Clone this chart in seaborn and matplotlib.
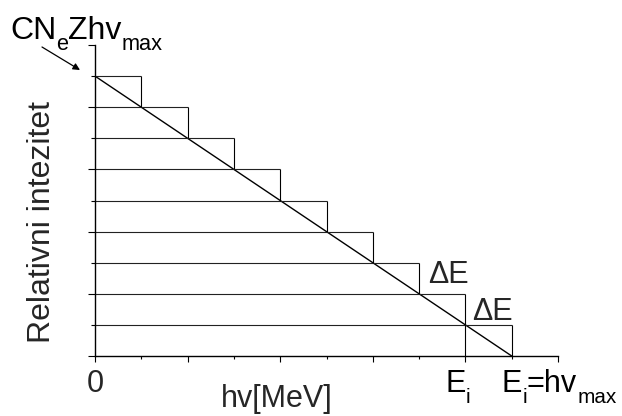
import matplotlib
matplotlib.use("Agg")
import matplotlib.pyplot as plt
import seaborn as sns
import pandas as pd
from matplotlib.ticker import MultipleLocator

# Staircase: within each energy bin of width dE the intensity is constant
step_levels = [9, 8, 7, 6, 5, 4, 3, 2, 1]
step_right = [1, 2, 3, 4, 5, 6, 7, 8, 9]
# Continuous spectrum: straight line from CN_eZ*hv_max at 0 down to hv_max
line_energy = [0, 9]
line_intensity = [9, 0]
e_i = 8
axis_max = 10

W, H, DPI = 622, 416, 100

sns.set_style("ticks")
plt.rcParams["font.family"] = ["Liberation Sans", "DejaVu Sans"]

fig = plt.figure(figsize=(W / DPI, H / DPI), dpi=DPI)
ax = fig.add_axes([95 / W, 1 - 356 / H, 463 / W, 311 / H])

df = pd.DataFrame({"E": line_energy, "I": line_intensity})
sns.lineplot(data=df, x="E", y="I", ax=ax, color="black", lw=1.0)

ax.hlines(step_levels, 0, step_right, colors="#222222", lw=0.8)
ax.vlines(step_right, [v - 1 for v in step_levels], step_levels,
          colors="black", lw=0.8)
# marker line for E_i down to the energy axis
ax.vlines([e_i], 0, 1, colors="black", lw=0.8)

ax.set_xlim(0, axis_max)
ax.set_ylim(0, axis_max)
ax.set_xlabel("")
ax.set_ylabel("")
for s in ("top", "right"):
    ax.spines[s].set_visible(False)
for s in ("left", "bottom"):
    ax.spines[s].set_linewidth(1.0)
    ax.spines[s].set_color("black")

ax.xaxis.set_major_locator(MultipleLocator(2))
ax.xaxis.set_minor_locator(MultipleLocator(1))
ax.yaxis.set_major_locator(MultipleLocator(2))
ax.yaxis.set_minor_locator(MultipleLocator(1))
ax.tick_params(axis="x", which="major", direction="out", length=4.5, width=0.8,
               color="black", labelbottom=False)
ax.tick_params(axis="x", which="minor", direction="out", length=2.2, width=0.8,
               color="black")
ax.tick_params(axis="y", which="major", direction="out", length=5, width=0.8,
               color="black", labelleft=False)
ax.tick_params(axis="y", which="minor", direction="out", length=3, width=0.8,
               color="black")

FS = 22
SUB = 0.68
DROP = 11

fig.canvas.draw()
renderer = fig.canvas.get_renderer()


def px(x, y):
    return x / W, 1 - y / H


def rich(x, y, parts, size=FS):
    """Draw text pieces left to right; pieces flagged True are subscripts."""
    for s, sub in parts:
        fs = size * SUB if sub else size
        yy = y + (DROP if sub else 0)
        t = fig.text(*px(x, yy), s, fontsize=fs, ha="left", va="baseline",
                     color="black")
        x += t.get_window_extent(renderer).width


rich(10, 39, [("CN", False), ("e", True), ("Zhv", False), ("max", True)],
     size=23)
rich(445, 392, [("E", False), ("i", True)])
rich(502, 392, [("E", False), ("i", True), ("=hv", False), ("max", True)])

fig.text(*px(95, 392), "0", fontsize=FS, ha="center", va="baseline")
fig.text(*px(277, 407), "hv[MeV]", fontsize=FS, ha="center", va="baseline")
fig.text(*px(50, 222), "Relativni intezitet", fontsize=23, rotation=90,
         rotation_mode="anchor", ha="center", va="baseline")
fig.text(*px(428, 283), "ΔE", fontsize=FS, ha="left", va="baseline")
fig.text(*px(472, 320), "ΔE", fontsize=FS, ha="left", va="baseline")

ax.annotate("", xy=(80, H - 70), xycoords="figure pixels",
            xytext=(42, H - 47), textcoords="figure pixels",
            arrowprops=dict(arrowstyle="-|>", color="black", lw=0.9,
                            mutation_scale=10, shrinkA=0, shrinkB=0))

fig.savefig("out.png", dpi=DPI)
